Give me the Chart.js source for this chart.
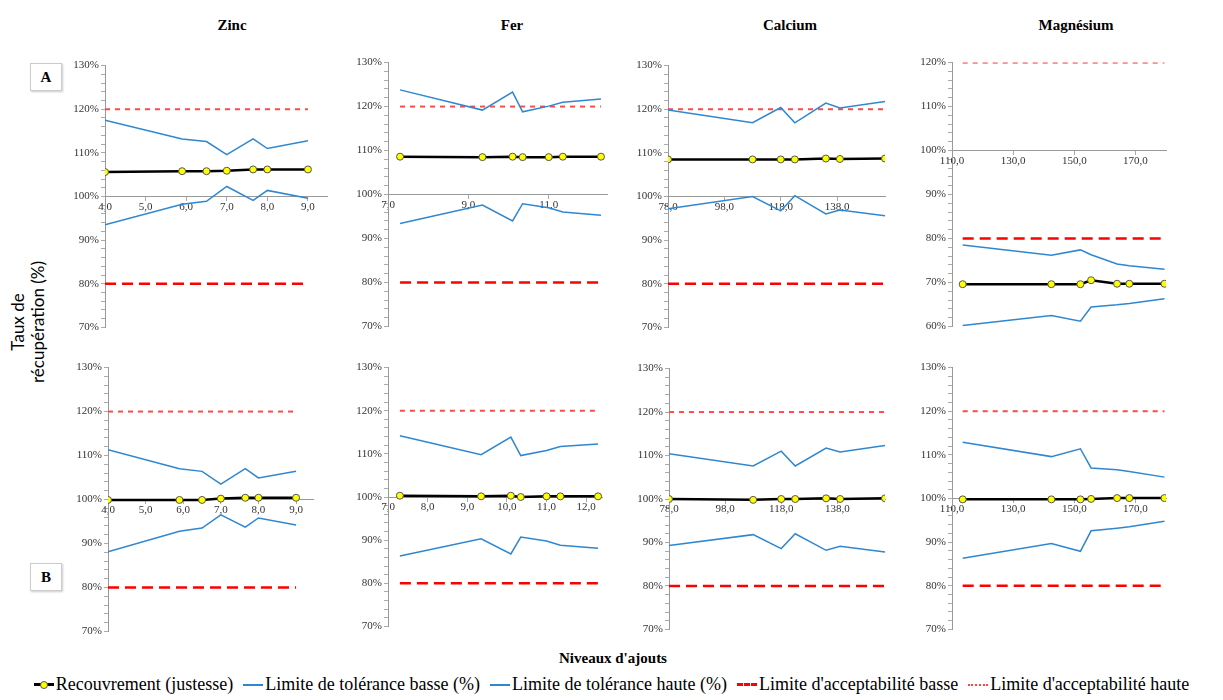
<!DOCTYPE html>
<html>
<head>
<meta charset="utf-8">
<script src="https://cdn.jsdelivr.net/npm/chart.js@4.4.0/dist/chart.umd.min.js"></script>
<style>
  body { margin: 0; background: #fff; width: 1223px; height: 700px; position: relative; overflow: hidden; font-family: 'Liberation Serif', serif; }
  canvas { position: absolute; }
  .col { position: absolute; top: 17px; font: bold 15px 'Liberation Serif', serif; transform: translateX(-50%); }
  .row { position: absolute; width: 30px; height: 26px; border: 1px solid #ccc; box-shadow: 1px 1px 2px #ccc; font: bold 15px 'Liberation Serif', serif; text-align: center; line-height: 26px; }
  #ytitle { position: absolute; left: 28px; top: 322px; transform: translate(-50%, -50%) rotate(-90deg); font: 17px Lato, sans-serif; text-align: center; line-height: 20px; white-space: nowrap; }
  #xtitle { position: absolute; left: 613px; top: 650px; transform: translateX(-50%); font: bold 15px 'Liberation Serif', serif; }
  #legend { position: absolute; left: 0; top: 674px; width: 1223px; display: flex; justify-content: center; font: 18px 'Liberation Serif', serif; white-space: nowrap; }
  #legend span.item { display: inline-flex; align-items: center; margin: 0 5px; }
  .sym { display: inline-block; width: 20px; height: 0; margin-right: 2px; position: relative; }
  .dot { position: absolute; left: 6px; top: -5px; width: 6px; height: 6px; border-radius: 50%; background: #ff0; border: 1px solid #555; }
</style>
</head>
<body>
<div class="col" style="left:232px">Zinc</div>
<div class="col" style="left:512px">Fer</div>
<div class="col" style="left:790px">Calcium</div>
<div class="col" style="left:1076px">Magnésium</div>
<div class="row" style="left:30px;top:63px">A</div>
<div class="row" style="left:30px;top:563px">B</div>
<div id="ytitle">Taux de<br>récupération (%)</div>
<div id="xtitle">Niveaux d'ajouts</div>
<div id="legend">
  <span class="item"><span class="sym" style="border-top:3px solid #000"><span class="dot"></span></span>Recouvrement (justesse)</span>
  <span class="item"><span class="sym" style="border-top:2px solid #2f87d0"></span>Limite de tolérance basse (%)</span>
  <span class="item"><span class="sym" style="border-top:2px solid #2f87d0"></span>Limite de tolérance haute (%)</span>
  <span class="item"><span class="sym" style="border-top:3px dashed #f00"></span>Limite d'acceptabilité basse</span>
  <span class="item"><span class="sym" style="border-top:2px dotted #f44"></span>Limite d'acceptabilité haute</span>
</div>
<script>
// spike levels (x)
const zincX = [4.0, 5.9, 6.5, 7.0, 7.65, 8.0, 9.0];
const feX = [7.3, 9.35, 10.1, 10.35, 11.0, 11.35, 12.3];
const caX = [78, 108, 118, 123, 134, 139, 155];
const mgX = [113.5, 142.5, 152, 155.5, 164, 168, 179.5];

// row A
const zincRecA = [105.6, 105.8, 105.8, 105.9, 106.2, 106.2, 106.2];
const zincLowA = [93.5, 98.2, 98.9, 102.3, 99.1, 101.4, 99.6];
const zincHighA = [117.5, 113.2, 112.6, 109.6, 113.2, 111.0, 112.8];
const feRecA = [108.6, 108.5, 108.6, 108.5, 108.5, 108.6, 108.6];
const feLowA = [93.4, 97.6, 94.0, 97.9, 97.0, 96.0, 95.3];
const feHighA = [123.8, 119.2, 123.3, 118.8, 120.1, 121.0, 121.7];
const caRecA = [108.5, 108.5, 108.5, 108.5, 108.7, 108.6, 108.7];
const caLowA = [97.2, 100.0, 96.7, 100.2, 96.0, 96.9, 95.6];
const caHighA = [119.8, 116.9, 120.4, 116.9, 121.4, 120.3, 121.8];
const mgRecA = [69.6, 69.6, 69.6, 70.5, 69.7, 69.7, 69.7];
const mgLowA = [60.2, 62.5, 61.2, 64.4, 64.9, 65.2, 66.3];
const mgHighA = [78.5, 76.2, 77.4, 76.3, 74.2, 73.8, 73.0];

// row B
const zincRecB = [99.9, 99.9, 99.9, 100.2, 100.4, 100.4, 100.4];
const zincLowB = [88.1, 92.8, 93.5, 96.5, 93.7, 95.8, 94.2];
const zincHighB = [111.3, 107.0, 106.4, 103.5, 107.0, 104.9, 106.4];
const feRecB = [100.3, 100.15, 100.3, 100.0, 100.15, 100.15, 100.15];
const feLowB = [86.3, 90.3, 86.8, 90.7, 89.8, 88.8, 88.1];
const feHighB = [114.2, 109.8, 113.9, 109.6, 110.8, 111.7, 112.3];
const caRecB = [100.0, 99.8, 100.0, 100.0, 100.15, 100.0, 100.15];
const caLowB = [89.3, 91.8, 88.6, 92.0, 88.2, 89.1, 87.8];
const caHighB = [110.4, 107.6, 111.0, 107.6, 111.7, 110.8, 112.3];
const mgRecB = [99.8, 99.8, 99.8, 99.9, 100.1, 100.1, 100.1];
const mgLowB = [86.3, 89.7, 87.9, 92.6, 93.2, 93.5, 94.8];
const mgHighB = [112.9, 109.6, 111.4, 107.0, 106.6, 106.2, 104.9];

// acceptability limits
const lowLimit = 80;
const highLimit = 120;

// x tick labels
const zincTicks = [4, 5, 6, 7, 8, 9];
const feTicksA = [7, 9, 11];
const feTicksB = [7, 8, 9, 10, 11, 12];
const caTicks = [78, 98, 118, 138];
const mgTicks = [110, 130, 150, 170];

const panels = [
  { x: zincX, rec: zincRecA, low: zincLowA, high: zincHighA, ticks: zincTicks, xMin: 4, xMax: 9.47, yMin: 70, yMax: 130, axisX: 105, right: 327, top: 65, bottom: 328 },
  { x: feX, rec: feRecA, low: feLowA, high: feHighA, ticks: feTicksA, xMin: 7, xMax: 12.45, yMin: 70, yMax: 130, axisX: 388, right: 607, top: 62, bottom: 327 },
  { x: caX, rec: caRecA, low: caLowA, high: caHighA, ticks: caTicks, xMin: 78, xMax: 155, yMin: 70, yMax: 130, axisX: 668, right: 885, top: 65, bottom: 328 },
  { x: mgX, rec: mgRecA, low: mgLowA, high: mgHighA, ticks: mgTicks, xMin: 110, xMax: 180, yMin: 60, yMax: 120, axisX: 952, right: 1166, top: 62, bottom: 327 },
  { x: zincX, rec: zincRecB, low: zincLowB, high: zincHighB, ticks: zincTicks, xMin: 4, xMax: 9.45, yMin: 70, yMax: 130, axisX: 108, right: 313, top: 367, bottom: 632 },
  { x: feX, rec: feRecB, low: feLowB, high: feHighB, ticks: feTicksB, xMin: 7, xMax: 12.4, yMin: 70, yMax: 130, axisX: 388, right: 602, top: 367, bottom: 627 },
  { x: caX, rec: caRecB, low: caLowB, high: caHighB, ticks: caTicks, xMin: 78, xMax: 155, yMin: 70, yMax: 130, axisX: 669, right: 885, top: 368, bottom: 630 },
  { x: mgX, rec: mgRecB, low: mgLowB, high: mgHighB, ticks: mgTicks, xMin: 110, xMax: 180, yMin: 70, yMax: 130, axisX: 952, right: 1166, top: 367, bottom: 630 }
];

const tickFont = { family: 'Liberation Serif', size: 11 };
const pts = (xs, ys) => xs.map((v, i) => ({ x: v, y: ys[i] }));

panels.forEach(p => {
  const yw = 45, pad = 8;
  const cv = document.createElement('canvas');
  const w = p.right - p.axisX + yw + 4;
  const h = p.bottom - p.top + pad * 2;
  cv.style.left = (p.axisX - yw) + 'px';
  cv.style.top = (p.top - pad) + 'px';
  cv.style.width = w + 'px';
  cv.style.height = h + 'px';
  cv.width = w; cv.height = h;
  document.body.appendChild(cv);
  const ends = [p.x[0], p.x[p.x.length - 1]];
  new Chart(cv.getContext('2d'), {
    type: 'line',
    data: {
      datasets: [
        { label: 'Recouvrement (justesse)', data: pts(p.x, p.rec), borderColor: '#000', borderWidth: 2.5,
          pointRadius: 3.5, pointBackgroundColor: '#ffff00', pointBorderColor: '#555', pointBorderWidth: 1 },
        { label: 'Limite de tolérance basse (%)', data: pts(p.x, p.low), borderColor: '#2f87d0', borderWidth: 1.5, pointRadius: 0 },
        { label: 'Limite de tolérance haute (%)', data: pts(p.x, p.high), borderColor: '#2f87d0', borderWidth: 1.5, pointRadius: 0 },
        { label: "Limite d'acceptabilité basse", data: pts(ends, [lowLimit, lowLimit]), borderColor: '#ff0000', borderWidth: 2.5, borderDash: [11, 6], pointRadius: 0 },
        { label: "Limite d'acceptabilité haute", data: pts(ends, [highLimit, highLimit]), borderColor: '#ff4a4a', borderWidth: 2, borderDash: [5, 5], pointRadius: 0 }
      ]
    },
    options: {
      responsive: false,
      animation: false,
      layout: { padding: { top: pad, bottom: pad, left: 0, right: 4 }, autoPadding: false },
      plugins: { legend: { display: false }, tooltip: { enabled: false } },
      scales: {
        x: {
          type: 'linear', min: p.xMin, max: p.xMax, position: { y: 100 },
          afterBuildTicks: ax => { ax.ticks = p.ticks.map(v => ({ value: v })); },
          grid: { drawOnChartArea: false, tickLength: 4, color: '#aaa' },
          border: { color: '#999' },
          ticks: { autoSkip: false, maxRotation: 0, padding: 0, font: tickFont, color: '#333',
            callback: v => v.toFixed(1).replace('.', ',') }
        },
        y: {
          min: p.yMin, max: p.yMax,
          afterFit: ax => { ax.width = yw; },
          grid: { drawOnChartArea: false, tickLength: 4, color: '#aaa' },
          border: { color: '#999' },
          ticks: { stepSize: 2, autoSkip: false, padding: 2, font: tickFont, color: '#333',
            callback: v => (Math.round(v) % 10 === 0 ? Math.round(v) + '%' : '') }
        }
      }
    }
  });
});
</script>
</body>
</html>
